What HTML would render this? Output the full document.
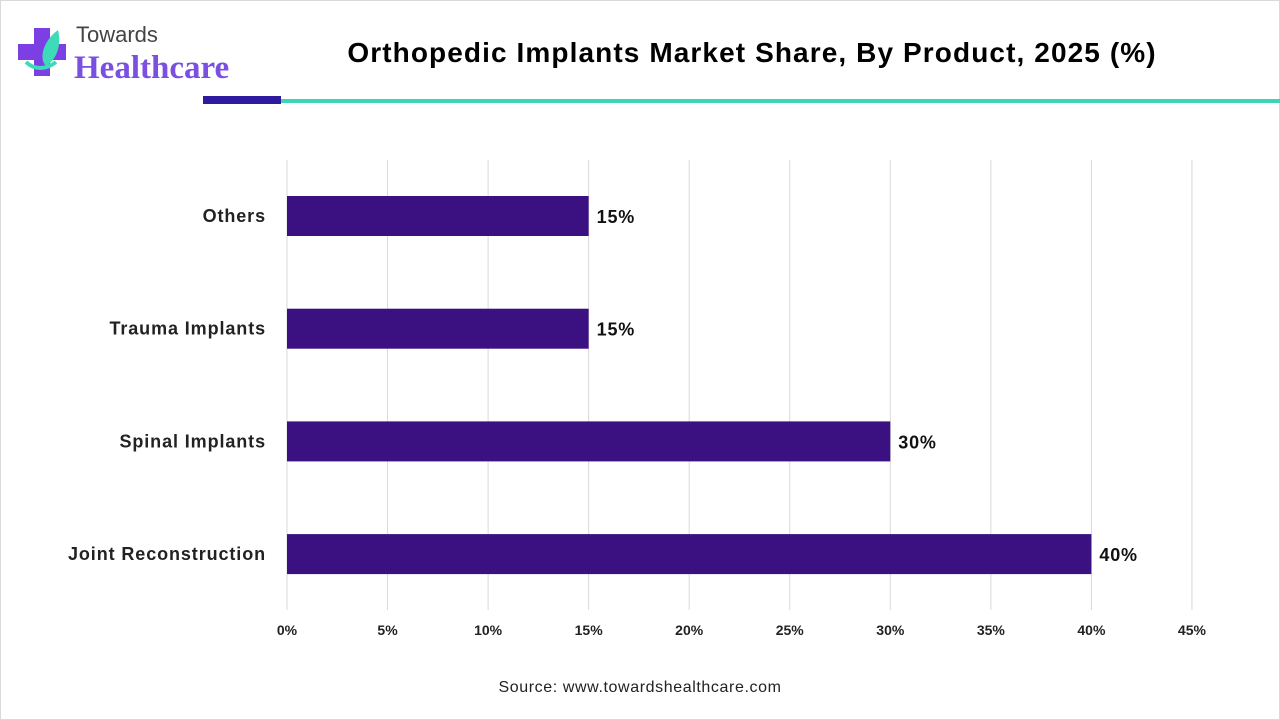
<!DOCTYPE html>
<html><head><meta charset="utf-8"><style>
body{margin:0;width:1280px;height:720px;background:#fff;font-family:"Liberation Sans",sans-serif;overflow:hidden}
#frame{position:absolute;left:0;top:0;width:1278px;height:718px;border:1px solid #d9d9d9}
</style></head><body>
<div id="frame"></div>
<svg width="1280" height="720" style="position:absolute;left:0;top:0">
<g>
<path d="M34 28 h16 v16 h16 v16 h-16 v16 h-16 v-16 h-16 v-16 h16z" fill="#7b3fe4"/>
<path d="M58 30 C44 40 38 58 46 66 C56 60 62 46 58 30z" fill="#3ddbb8"/>
<path d="M26 62 C34 70 46 70 56 62" stroke="#3ddbb8" stroke-width="4" fill="none"/>
<text x="76" y="42" font-size="22" fill="#444">Towards</text>
<text x="74" y="78" font-size="33" font-weight="bold" font-family="Liberation Serif,serif" fill="#7b4fe0">Healthcare</text>
</g>
<text x="752" y="62" font-size="28" font-weight="bold" letter-spacing="1.1" text-anchor="middle" fill="#000">Orthopedic Implants Market Share, By Product, 2025 (%)</text>
<rect x="203" y="96" width="78" height="8" fill="#2e1a9e"/>
<rect x="281" y="99" width="999" height="4" fill="#3dd6b4"/>
<g id="grid"></g><g id="bars"></g><g id="labels"></g>
<text x="640" y="692" font-size="16" letter-spacing="0.6" text-anchor="middle" fill="#222">Source: www.towardshealthcare.com</text>
</svg>
<script>
const categories=["Others","Trauma Implants","Spinal Implants","Joint Reconstruction"];
const values=[15,15,30,40];
const ticks=[0,5,10,15,20,25,30,35,40,45];
const NS="http://www.w3.org/2000/svg";
const x=v=>287+v*20.11;
const yc=i=>216+i*112.7;
function mk(t,a,p,txt){const e=document.createElementNS(NS,t);for(const k in a)e.setAttribute(k,a[k]);if(txt!==undefined)e.textContent=txt;document.getElementById(p).appendChild(e);return e;}
ticks.forEach(t=>{
 const l=mk("line",{x1:x(t),x2:x(t),y1:160,y2:610,stroke:"#d9d9d9","stroke-width":1},"grid");
 
 
 const tx=mk("text",{x:x(t),y:635,"font-size":14,"font-weight":"bold","text-anchor":"middle",fill:"#222"},"labels",t+"%");
 
 
});
categories.forEach((c,i)=>{
 const r=mk("rect",{x:x(0),y:yc(i)-20,width:x(values[i])-x(0),height:40,fill:"#3b1080"},"bars");
 
 
 const cl=mk("text",{x:266,y:yc(i)+6,"font-size":18,"letter-spacing":0.9,"font-weight":"bold","text-anchor":"end",fill:"#222"},"labels",c);
 
 
 const vl=mk("text",{x:x(values[i])+8,y:yc(i)+7,"font-size":18,"letter-spacing":0.8,"font-weight":"bold",fill:"#111"},"labels",values[i]+"%");
 
 
});
</script>
</body></html>
